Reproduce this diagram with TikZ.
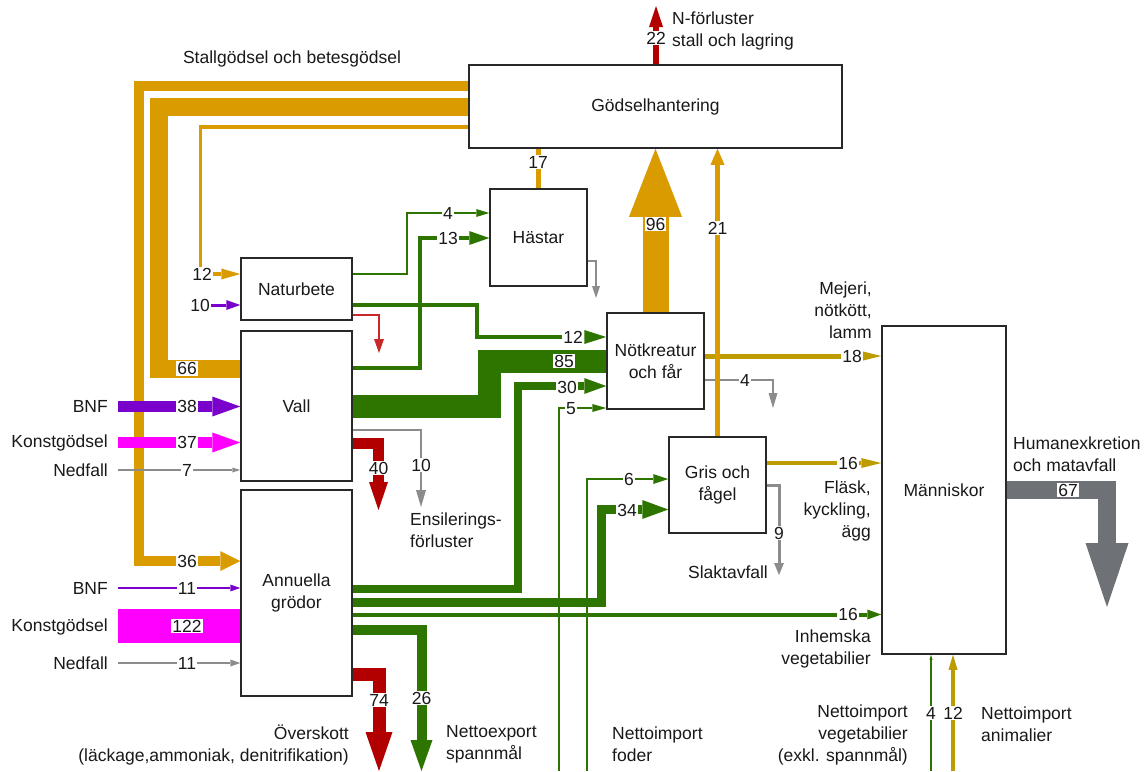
\documentclass[tikz,border=0pt]{standalone}
\usepackage{fontspec}
\setmainfont{Liberation Sans}
\usetikzlibrary{arrows.meta,backgrounds}
\definecolor{ora}{RGB}{217,155,0}
\definecolor{oli}{RGB}{188,156,0}
\definecolor{grn}{RGB}{46,117,0}
\definecolor{pur}{RGB}{122,0,204}
\definecolor{mag}{RGB}{255,0,255}
\definecolor{rd}{RGB}{178,0,0}
\definecolor{lrd}{RGB}{200,40,40}
\definecolor{gry}{RGB}{140,140,140}
\definecolor{dgry}{RGB}{110,113,117}
\definecolor{boxc}{RGB}{40,40,40}
\definecolor{txtc}{RGB}{25,25,25}
\tikzset{
  every node/.style={font=\fontsize{17.5}{22}\selectfont, text=txtc},
  box/.style={draw=boxc, line width=1.5pt, inner sep=0pt, align=center},
  num/.style={fill=white, inner sep=1pt},
  txt/.style={inner sep=0pt},
  ah/.style 2 args={-{Triangle[length=#1pt,width=#2pt,line width=0pt]}},
}
\begin{document}
\begin{tikzpicture}[x=1pt,y=-1pt]
\useasboundingbox (0,0) rectangle (1147,771);

\node[box, minimum width=373pt, minimum height=83pt] (gods) at (655.5,106.5) {Gödselhantering};
\node[box, minimum width=97pt, minimum height=97pt] (hast) at (538.5,237.5) {Hästar};
\node[box, minimum width=111pt, minimum height=62pt] (natur) at (296.5,289) {Naturbete};
\node[box, minimum width=111pt, minimum height=150pt] (vall) at (296.5,406) {Vall};
\node[box, minimum width=111pt, minimum height=206pt] (ann) at (296.5,593) {Annuella\\grödor};
\node[box, minimum width=97pt, minimum height=96pt] (not) at (655.5,361) {Nötkreatur\\och får};
\node[box, minimum width=97pt, minimum height=96pt] (gris) at (717.5,485) {Gris och\\fågel};
\node[box, minimum width=124pt, minimum height=328pt] (mann) at (944,490) {Människor};

\begin{pgfonlayer}{background}
\fill[white] (0,0) rectangle (1147,771);
% manure flows
\draw[ora, line width=10pt, ah={20}{20}] (gods.west |- 0,86) -| (139,561) -- (ann.west |- 0,561);
\draw[ora, line width=18pt] (gods.west |- 0,106.5) -| (158.5,368.5) -- (vall.west |- 0,368.5);
\draw[ora, line width=3.5pt, ah={19}{11}] (gods.west |- 0,127) -| (200.5,274) -- (natur.west |- 0,274);

% inputs
\draw[pur, line width=11pt, ah={28}{20}] (118,406.5) -- (vall.west |- 0,406.5);
\draw[mag, line width=11pt, ah={28}{20}] (118,442.5) -- (vall.west |- 0,442.5);
\draw[gry, line width=1.5pt, ah={8}{5}] (118,470) -- (vall.west |- 0,470);
\draw[pur, line width=2.5pt, ah={10}{7}] (118,588) -- (ann.west |- 0,588);
\draw[mag, line width=34pt] (118,626) -- (ann.west |- 0,626);
\draw[gry, line width=2.5pt, ah={10}{7}] (118,663) -- (ann.west |- 0,663);
\draw[pur, line width=3pt, ah={14}{10}] (190,305) -- (natur.west |- 0,305);

% Naturbete outputs
\draw[grn, line width=1.5pt, ah={13}{8}] (natur.east |- 0,274) -| (407,213) -- (hast.west |- 0,213);
\draw[grn, line width=3.5pt, ah={22}{14}] (natur.east |- 0,305) -| (477,337) -- (not.west |- 0,337);
\draw[lrd, line width=1.5pt, ah={14}{10}] (natur.east |- 0,315) -| (379,353);

% Vall outputs
\draw[grn, line width=4pt, ah={20}{14}] (vall.east |- 0,368) -| (420,238) -- (hast.west |- 0,238);
\draw[grn, line width=23pt] (vall.east |- 0,406) -| (489.5,361) -- (not.west |- 0,361);
\draw[gry, line width=2.5pt, ah={17}{10}] (vall.east |- 0,430) -| (421,507);
\draw[rd, line width=11pt, ah={28}{19}] (vall.east |- 0,443) -| (378.5,510);

% Annuella outputs
\draw[grn, line width=8pt, ah={22}{16}] (ann.east |- 0,589) -| (517.5,386) -- (not.west |- 0,386);
\draw[grn, line width=9pt, ah={26}{19}] (ann.east |- 0,602.5) -| (601,509.5) -- (gris.west |- 0,509.5);
\draw[grn, line width=4pt, ah={14}{10}] (ann.east |- 0,614.5) -- (mann.west |- 0,614.5);
\draw[grn, line width=10pt, ah={31}{22}] (ann.east |- 0,630) -| (421.5,771);
\draw[rd, line width=13pt, ah={39}{27}] (ann.east |- 0,674) -| (379,771);

% Nettoimport foder
\draw[grn, line width=2pt, ah={14}{8}] (559,771) |- (not.west |- 0,408);
\draw[grn, line width=2pt, ah={15}{10}] (587,771) |- (gris.west |- 0,479);

% animal outputs
\draw[gry, line width=2pt, ah={12}{8}] (hast.east |- 0,261) -| (596,298);
\draw[oli, line width=5pt, ah={20}{10}] (not.east |- 0,356) -- (mann.west |- 0,356);
\draw[gry, line width=2pt, ah={15}{9}] (not.east |- 0,380) -| (773,408);
\draw[oli, line width=4.5pt, ah={20}{10}] (gris.east |- 0,463) -- (mann.west |- 0,463);
\draw[gry, line width=3pt, ah={12}{10}] (gris.east |- 0,485) -| (779,575);

% to Gödselhantering
\draw[ora, line width=5pt] (hast.north -| 538,0) -- (gods.south -| 538,0);
\draw[ora, line width=26pt, ah={68}{53}] (not.north) -- (gods.south -| not.north);
\draw[ora, line width=5pt, ah={16}{14}] (gris.north) -- (gods.south -| gris.north);
\draw[rd, line width=6.5pt, ah={21}{14}] (gods.north -| 656,0) -- (656,6);

% Människor
\draw[grn, line width=1.5pt, ah={5}{3}] (931,771) -- (mann.south -| 931,0);
\draw[oli, line width=4pt, ah={15}{9}] (953,771) -- (mann.south -| 953,0);
\draw[dgry, line width=18pt, ah={64}{43}] (mann.east |- 0,490) -| (1107,607);
\end{pgfonlayer}

% number labels
\node[num] (n12a) at (202,274) {12};
\node[num] (n10a) at (200,305) {10};
\node[num] (n66) at (187,368.5) {66};
\node[num] (n38) at (187,406.5) {38};
\node[num] (n37) at (187,442.5) {37};
\node[num] (n7) at (187,470) {7};
\node[num] (n36) at (187,561) {36};
\node[num] (n11a) at (187,588) {11};
\node[num] (n122) at (187,626) {122};
\node[num] (n11b) at (187,663) {11};
\node[num] (n4a) at (448,213) {4};
\node[num] (n13) at (448,238) {13};
\node[num] (n12b) at (573,337) {12};
\node[num] (n85) at (564,361) {85};
\node[num] (n30) at (567,387) {30};
\node[num] (n5) at (571,409) {5};
\node[num] (n40) at (378.5,468) {40};
\node[num] (n10b) at (421,465) {10};
\node[num] (n6) at (629,479) {6};
\node[num] (n34) at (627,510) {34};
\node[num] (n16a) at (848,614.5) {16};
\node[num] (n26) at (421.5,698) {26};
\node[num] (n74) at (379,700) {74};
\node[num] (n17) at (538,162) {17};
\node[num] (n96) at (655.5,224) {96};
\node[num] (n21) at (717.5,228) {21};
\node[num] (n22) at (656,38) {22};
\node[num] (n18) at (852,356) {18};
\node[num] (n4b) at (745,380) {4};
\node[num] (n16b) at (848,463) {16};
\node[num] (n9) at (779,533) {9};
\node[num] (n4c) at (931,713) {4};
\node[num] (n12c) at (953,713) {12};
\node[num] (n67) at (1068,490) {67};

% text labels
\node[txt] (tstall) at (292,59) {Stallgödsel och betesgödsel};
\node[txt, anchor=west, align=left] (tnf) at (672,31) {N-förluster\\stall och lagring};
\node[txt, anchor=east] (tbnf1) at (108,406.5) {BNF};
\node[txt, anchor=east] (tkg1) at (108,442.5) {Konstgödsel};
\node[txt, anchor=east] (tnd1) at (108,470) {Nedfall};
\node[txt, anchor=east] (tbnf2) at (108,588) {BNF};
\node[txt, anchor=east] (tkg2) at (108,627) {Konstgödsel};
\node[txt, anchor=east] (tnd2) at (108,663) {Nedfall};
\node[txt, anchor=west, align=left] (tens) at (410,530.5) {Ensilerings-\\förluster};
\node[txt, anchor=east, align=right] (tover) at (349,744.5) {Överskott\\(läckage,ammoniak, denitrifikation)};
\node[txt, anchor=west, align=left] (texp) at (446,744.5) {Nettoexport\\spannmål};
\node[txt, anchor=west, align=left] (tfod) at (612,744.5) {Nettoimport\\foder};
\node[txt, anchor=east, align=right] (tmej) at (872,310.5) {Mejeri,\\nötkött,\\lamm};
\node[txt, anchor=east, align=right] (tfla) at (871,511) {Fläsk,\\kyckling,\\ägg};
\node[txt] (tslakt) at (728,572) {Slaktavfall};
\node[txt, anchor=east, align=right] (tinh) at (871,648.5) {Inhemska\\vegetabilier};
\node[txt, anchor=west, align=left] (thum) at (1013,454) {Humanexkretion\\och matavfall};
\node[txt, anchor=east, align=right] (tveg) at (908,735) {Nettoimport\\vegetabilier\\(exkl. spannmål)};
\node[txt, anchor=west, align=left] (tani) at (981,724) {Nettoimport\\animalier};
\end{tikzpicture}
\end{document}
